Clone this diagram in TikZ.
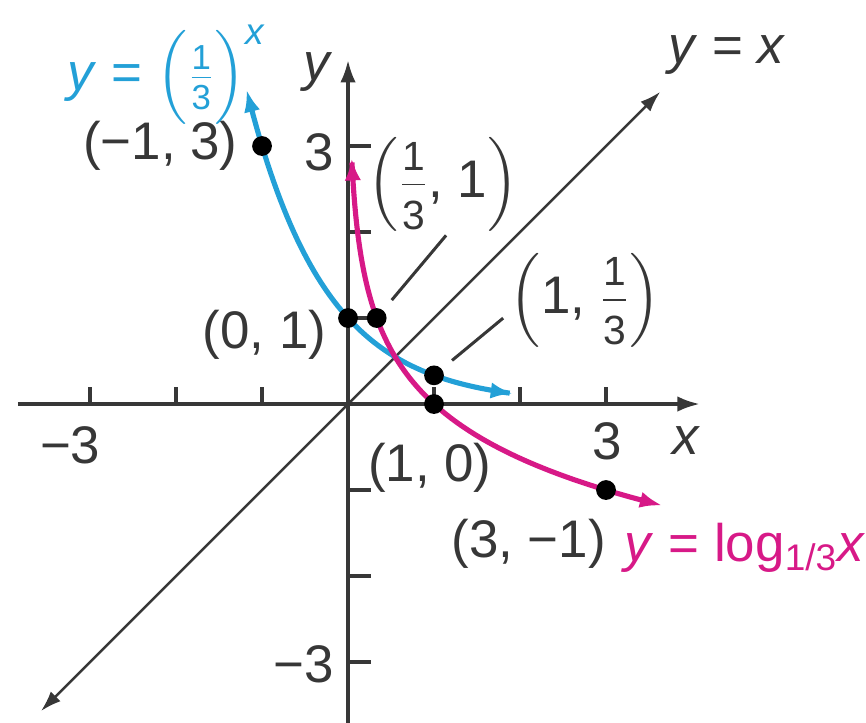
\documentclass[tikz,border=0pt]{standalone}
\usepackage{amsmath}
\usepackage{fontspec}
\setmainfont{Liberation Sans}
\usepackage{tikz}
\usetikzlibrary{arrows.meta,positioning}
\definecolor{expblue}{RGB}{35,160,215}
\definecolor{logpink}{RGB}{215,25,135}
\definecolor{inkgray}{RGB}{55,55,55}
\newcommand{\thirdbig}{\genfrac{}{}{0.5pt}{1}{\text{\fontsize{13.5}{14}\selectfont 1}\rule[-4pt]{0pt}{4pt}}{\text{\fontsize{13.5}{14}\selectfont 3}\rule{0pt}{14pt}}}
\newcommand{\thirdsmall}{\genfrac{}{}{0.5pt}{1}{\text{\fontsize{11.5}{12}\selectfont 1}\rule[-2pt]{0pt}{2pt}}{\text{\fontsize{11.5}{12}\selectfont 3}\rule{0pt}{10pt}}}

\begin{document}
\begin{tikzpicture}[
    axis/.style={line width=1.1pt, inkgray, -{Latex[length=2.6mm,width=1.8mm]}},
    axtick/.style={line width=1.1pt, inkgray},
    diag/.style={line width=0.8pt, inkgray, {Latex[length=2.4mm,width=1.6mm]}-{Latex[length=2.4mm,width=1.6mm]}},
    curve/.style={line width=1.7pt, {Latex[length=2.6mm,width=1.9mm]}-{Latex[length=2.6mm,width=1.9mm]}},
    dot/.style={circle, fill=black, inner sep=0pt, minimum size=2.3mm},
    lbl/.style={font=\fontsize{17.5}{20}\selectfont, text=inkgray, inner sep=1pt},
    leader/.style={line width=1pt, inkgray},
]
\useasboundingbox (-4.047,-3.709) rectangle (6.023,4.698);

% axes and ticks
\draw[axis] (-3.84,0) -- (4.09,0);
\draw[axis] (0,-3.75) -- (0,4.0);
\foreach \k in {-3,-2,-1,1,2,3} {
    \draw[axtick] (\k,0) -- (\k,0.2);
    \draw[axtick] (0,\k) -- (0.27,\k);
}
\draw[diag] (-3.57,-3.57) -- (3.63,3.63);

% the two curves
\draw[curve, expblue] plot[domain=-1.18:1.92, samples=80] (\x, {3^(-\x)});
\draw[curve, logpink] plot[variable=\t, domain=2.86:-1.18, samples=80] ({3^(-\t)}, \t);

% marked points
\node[dot] (pA) at (-1,3) {};
\node[dot] (pB) at (0,1) {};
\node[dot] (pC) at (1/3,1) {};
\node[dot] (pD) at (1,1/3) {};
\node[dot] (pE) at (1,0) {};
\node[dot] (pF) at (3,-1) {};

% axis labels
\node[lbl] (xlab) at (3.93,-0.42) {\textit{x}};
\node[lbl] (ylab) at (-0.35,3.86) {\textit{y}};
\node[lbl] (xm3) at (-3.23,-0.48) {−3};
\node[lbl] (xp3) at (3.01,-0.43) {3};
\node[lbl] (ym3) at (-0.52,-3.03) {−3};
\node[lbl] (yp3) at (-0.33,2.93) {3};

% point labels
\node[lbl, left=0.12cm of pA] (lA) {(−1, 3)};
\node[lbl] (lB) at (-0.97,0.80) {(0, 1)};
\node[lbl] (lC) at (1.105,2.55) {$\left(\thirdbig\text{, 1}\right)$};
\node[lbl] (lD) at (2.76,1.21) {$\left(\text{1, }\thirdbig\right)$};
\node[lbl] (lE) at (0.95,-0.74) {(1, 0)};
\node[lbl] (lF) at (2.10,-1.62) {(3, −1)};
\draw[leader, shorten >=1.5mm] ([xshift=1pt]lC.south) -- (pC);
\draw[leader, shorten >=1.5mm] ([xshift=-1pt,yshift=-6pt]lD.west) -- (pD);

% curve names
\node[lbl, text=expblue] (fexp) at (-2.11,3.83) {\textit{y} = $\Bigl(\thirdsmall\Bigr)^{\text{\itshape x}}$};
\node[lbl, text=logpink] (flog) at (4.62,-1.67) {\textit{y} = log$_{\text{1/3}}$\textit{x}};
\node[lbl] (fid) at (4.41,4.06) {\textit{y} = \textit{x}};
\end{tikzpicture}
\end{document}
